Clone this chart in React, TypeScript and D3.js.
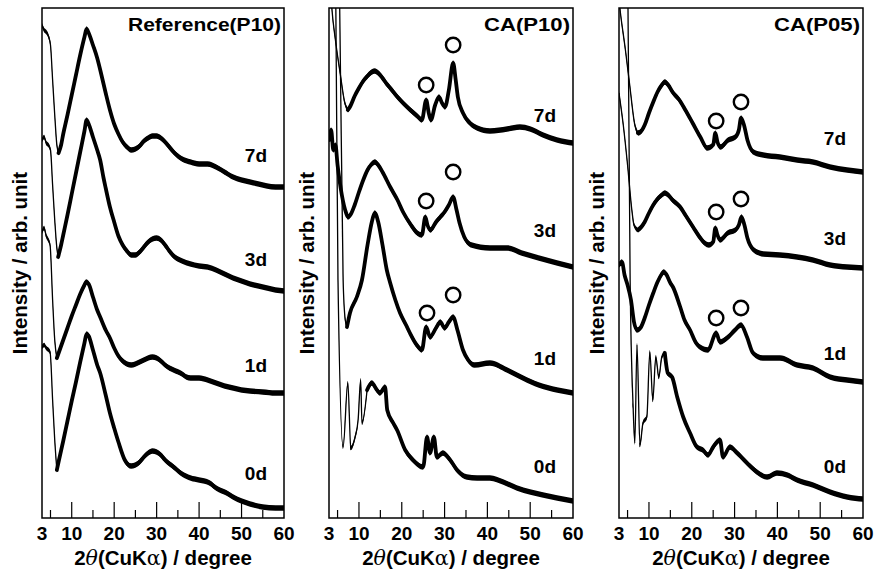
import React from "react";
import * as d3 from "d3";

// ---------- data (2θ in degrees, intensity in arb. units incl. vertical offset) ----------
const X_DOMAIN: [number, number] = [3, 60];
const Y_DOMAIN: [number, number] = [0, 510];
const X_TICK_LABELS = [3, 10, 20, 30, 40, 50, 60];
const X_MAJOR_TICKS = [10, 20, 30, 40, 50];
const X_MINOR_TICKS = [5, 15, 25, 35, 45, 55];
const DAYS = ["7d", "3d", "1d", "0d"];
const PANEL_TITLES = ["Reference(P10)", "CA(P10)", "CA(P05)"];

type P = [number, number];

// Reference(P10)
const ref7d: P[] = [[3,493],[3.5,488],[4,486],[4.5,482],[5,473],[5.5,438],[6,403],[6.5,373],[6.9,365],[7.5,373],[8,384],[9,403],[10,423],[11,443],[12,463],[13,481],[13.5,489],[14,485],[15,473],[16,460],[17,443],[18,425],[19,408],[20,394],[21,384],[22,376],[23,371],[24,368],[25,369],[26,372],[27,377],[28,380],[29,382],[30,382],[31,380],[32,376],[33,371],[34,366],[35,362],[36,359],[38,356],[40,354],[42,354],[44,351],[46,346],[48,341],[50,338],[52,336],[54,334],[56,332],[58,331],[60,331]];
const ref3d: P[] = [[3,378],[3.5,381],[4,375],[4.5,373],[5,368],[5.5,333],[6,298],[6.5,270],[6.8,261],[7.5,273],[8,283],[9,303],[10,324],[11,345],[12,366],[13,387],[13.5,398],[14,394],[15,381],[16,368],[16.7,358],[17.5,340],[18,330],[19,311],[20,296],[21,282],[22,273],[23,267],[24,263],[25,263],[26,266],[27,271],[28,276],[29,279],[30,280],[31,278],[32,273],[33,267],[34,262],[35,259],[36,257],[38,254],[40,252],[42,251],[44,248],[46,244],[48,240],[50,237],[52,234],[54,232],[56,230],[58,228],[60,227]];
const ref1d: P[] = [[3,286],[3.5,290],[4,282],[4.5,278],[4.9,273],[5.5,218],[6,178],[6.5,160],[7,166],[8,178],[9,190],[10,202],[11,213],[12,224],[13,233],[13.4,236],[14,234],[15,221],[16,208],[16.7,201],[18,188],[19,180],[20,170],[21,162],[22,157],[23,154],[24,153],[25,154],[26,156],[27,158],[28,160],[29,161],[30,160],[31,157],[32,153],[33,150],[34,148],[36,144],[37,141],[38,140],[40,140],[42,138],[44,135],[46,132],[48,130],[50,128],[52,127],[55,126],[58,125],[60,125]];
const ref0d: P[] = [[3,171],[3.5,173],[4,170],[4.9,166],[5.5,118],[6,78],[6.5,48],[7,58],[8,77],[9,97],[10,117],[11,136],[12,156],[13,175],[13.5,184],[14,182],[15,168],[16,153],[16.7,145],[18,123],[19,105],[20,90],[21,76],[22.5,58],[24,52],[25,53],[26,56],[27,61],[28,65],[29,67],[30,66],[31,63],[32,58],[34,51],[36,44],[38,40],[40,38],[42.5,35],[44,30],[46.5,25],[48,21],[50,17],[52,14],[55,11],[58,10],[60,10]];

// CA(P10)
const p10_7d: P[] = [[3,558],[3.7,508],[4.5,478],[5.6,445],[6.7,415],[7.4,408],[8,412],[9,422],[10,430],[11,437],[12,442],[13,446],[13.7,447],[14.5,445],[15.5,440],[16.5,434],[17.3,430],[19,421],[20.3,415],[22,408],[23.6,402],[24.7,398],[25.7,418],[26.3,405],[26.8,398],[27.8,413],[28.7,421],[29.4,415],[30.1,411],[31,428],[32,455],[32.6,438],[33.1,421],[34.3,405],[35.9,395],[37.6,390],[40.6,387],[44.6,389],[47.6,391],[50,389],[53,383],[56.3,378],[60,375]];
const p10_3d: P[] = [[3,378],[3.5,388],[4,368],[4.5,373],[5,353],[6,323],[7,305],[7.4,301],[8,303],[9,313],[10,326],[11,338],[12,348],[13,354],[13.7,356],[14.5,353],[15.5,346],[17.3,331],[19,318],[20.3,306],[22,294],[23.6,285],[24.7,283],[25.5,301],[26,293],[26.7,288],[28,296],[29,301],[30,306],[31,313],[32,321],[32.8,308],[33.5,295],[34.6,281],[36.3,273],[40.6,270],[44.6,270],[48,265],[52,260],[56.3,255],[60,251]];
const p10_1d: P[] = [[3,818],[5.5,510],[6.3,238],[6.8,198],[7.2,191],[7.9,205],[9.5,221],[10.7,238],[12,273],[13,296],[13.7,305],[14.5,296],[15.5,273],[16.5,248],[17.3,235],[18.5,218],[19.6,205],[21,193],[21.9,185],[23.5,173],[24.7,168],[25.7,191],[26.6,181],[28,190],[29,196],[30,190],[31,196],[32,201],[33,188],[34.3,168],[35.5,158],[37,153],[40.6,155],[44.6,148],[48.3,140],[52,133],[56.3,128],[60,125]];
const p10_0d: P[] = [[3,918],[4.6,510],[5.1,238],[6.3,71],[7.4,135],[8.1,70],[9.1,81],[9.8,98],[10.4,138],[10.7,95],[11.9,128],[13,135],[14.2,128],[14.9,125],[16.1,131],[16.6,108],[18,95],[18.9,88],[20.8,68],[22.6,58],[25,51],[25.9,81],[26.6,65],[27.5,81],[28.2,61],[29.6,65],[31.3,58],[32.9,48],[35.2,41],[37.6,40],[40.6,40],[43.7,36],[46.9,30],[50,26],[53,23],[56.3,20],[60,17]];

// CA(P05)
const p05_7d: P[] = [[3,518],[3.2,510],[4.5,468],[5.5,433],[6.7,393],[7.4,385],[8,386],[9,393],[10,405],[11,416],[12,426],[13,433],[13.7,436],[14.5,433],[15.5,426],[17.1,418],[18.5,408],[20.2,395],[22,381],[23.6,370],[25,373],[25.5,385],[26,376],[26.7,371],[28.5,378],[30.2,381],[31,388],[31.5,400],[32.2,393],[33,378],[34.4,366],[36.7,363],[40.6,361],[44.6,358],[48.3,356],[52.3,351],[56.3,348],[60,346]];
const p05_3d: P[] = [[3,425],[4,393],[5,353],[6,308],[6.5,293],[7.4,288],[8,290],[9,296],[10,305],[11,313],[12,319],[13,323],[13.7,325],[14.5,323],[15.5,318],[17.3,311],[18.5,303],[20.3,291],[22,280],[23,275],[24,273],[25,276],[25.5,290],[26,283],[26.6,278],[28.4,285],[30.2,288],[31,293],[31.6,301],[32.3,293],[33,280],[34.5,268],[36.7,264],[40.6,263],[44.6,261],[48.3,258],[52.3,253],[56.3,251],[60,250]];
const p05_1d: P[] = [[3,253],[3.7,256],[4.3,243],[5,233],[5.8,218],[6.5,196],[7.2,188],[8,190],[9,200],[10,213],[11,225],[12,236],[13,244],[13.4,246],[14,244],[15,235],[15.6,231],[17.3,211],[18.3,198],[19.6,188],[21,175],[21.9,171],[23.8,168],[25.7,185],[26.6,176],[28.5,181],[30.1,188],[31.5,193],[32.9,181],[34.3,165],[36.6,160],[40.6,160],[44.6,153],[48.3,150],[52.3,141],[56.3,138],[60,136]];
const p05_0d: P[] = [[3,818],[5.1,510],[5.6,238],[6.3,111],[6.7,75],[7.2,173],[7.9,73],[8.6,95],[9.5,101],[10.2,166],[10.9,118],[11.6,161],[12.3,141],[13,161],[13.7,165],[14.4,145],[15.4,141],[16.6,121],[18,101],[19.6,85],[21.2,71],[22.6,68],[23.8,63],[25,71],[26.6,78],[27.3,61],[28.9,71],[30.6,65],[32.9,55],[35.2,46],[37.6,41],[39.9,45],[42.3,43],[44.6,38],[48.3,33],[52.3,26],[56.3,21],[60,19]];

// "7d","3d","1d","0d" label heights (same intensity units)
const refLabelI = [356, 252, 146, 38];
const p10LabelI = [396, 281, 153, 45];
const p05LabelI = [373, 273, 158, 45];

// ○ marker positions [2θ, intensity]
const refCircles: P[] = [];
const p10Circles: P[] = [[25.7,433],[32.0,473],[25.7,317],[32.0,346],[25.9,205],[32.0,223]];
const p05Circles: P[] = [[25.7,397],[31.5,416],[25.7,306],[31.5,319],[25.7,200],[31.5,210]];

const PANEL_SERIES: P[][][] = [
  [ref7d, ref3d, ref1d, ref0d],
  [p10_7d, p10_3d, p10_1d, p10_0d],
  [p05_7d, p05_3d, p05_1d, p05_0d],
];
const PANEL_LABEL_I = [refLabelI, p10LabelI, p05LabelI];
const PANEL_CIRCLES = [refCircles, p10Circles, p05Circles];

// ---------- style / layout ----------
// 2θ from which each trace is drawn as a thick noisy band
const THICK_FROM = [
  [6.9, 6.8, 6.5, 6.5],
  [7.4, 3, 7.2, 11.5],
  [7.4, 7.4, 3, 13.5],
];
const W = 877, H = 571;
const TOP = 8, BOTTOM = 518;
const PANELS = [
  { left: 42, right: 284 },
  { left: 329, right: 573 },
  { left: 619, right: 863 },
];
const TITLE_LEN = [153, 86, 86];
const FONT = "'Liberation Sans', Arial, Helvetica, sans-serif";
const NOISE = 2.3;
const NOISE_TAIL = 2.7;
const THICK = 3.8;

function Panel({ idx }: { idx: number }) {
  const { left, right } = PANELS[idx];
  const x = d3.scaleLinear().domain(X_DOMAIN).range([left, right]);
  const y = d3.scaleLinear().domain(Y_DOMAIN).range([BOTTOM, TOP]);
  const bandOf = (h: number) =>
    d3
      .area<P>()
      .x((d) => x(d[0]))
      .y0((d) => y(d[1]) + h)
      .y1((d) => y(d[1]) - h)
      .curve(d3.curveMonotoneX);
  const band = bandOf(NOISE);
  const bandTail = bandOf(NOISE_TAIL);
  const line = d3
    .line<P>()
    .x((d) => x(d[0]))
    .y((d) => y(d[1]))
    .curve(d3.curveMonotoneX);
  const clipId = `clip-${idx}`;
  const cx = (left + right) / 2;
  const cy = (TOP + BOTTOM) / 2;
  return (
    <g>
      <defs>
        <clipPath id={clipId}>
          <rect x={left} y={TOP} width={right - left} height={BOTTOM - TOP} />
        </clipPath>
      </defs>
      <g clipPath={`url(#${clipId})`}>
        {PANEL_SERIES[idx].map((s, i) => {
          const from = THICK_FROM[idx][i];
          let k = s.findIndex((d) => d[0] >= from);
          if (k < 0) k = s.length - 1;
          const head = s.slice(0, k + 1);
          const tail = s.slice(k);
          return (
            <g key={i}>
              {head.length > 1 && <path d={band(head) ?? ""} fill="#000" stroke="none" />}
              {head.length > 1 && (
                <path d={line(head) ?? ""} fill="none" stroke="#000" strokeWidth={1.3} />
              )}
              <path d={bandTail(tail) ?? ""} fill="#000" stroke="none" />
              <path
                d={line(tail) ?? ""}
                fill="none"
                stroke="#000"
                strokeWidth={THICK}
                strokeLinejoin="round"
                strokeLinecap="round"
              />
            </g>
          );
        })}
        {PANEL_CIRCLES[idx].map((c, i) => (
          <circle key={i} cx={x(c[0])} cy={y(c[1])} r={7.2} fill="#fff" stroke="#000" strokeWidth={2.4} />
        ))}
      </g>
      {/* frame */}
      <rect x={left} y={TOP} width={right - left} height={BOTTOM - TOP} fill="none" stroke="#000" strokeWidth={1.5} />
      {/* ticks */}
      {X_MAJOR_TICKS.map((t) => (
        <line key={"M" + t} x1={x(t)} x2={x(t)} y1={BOTTOM} y2={BOTTOM - 16} stroke="#000" strokeWidth={1.2} />
      ))}
      {X_MINOR_TICKS.map((t) => (
        <line key={"m" + t} x1={x(t)} x2={x(t)} y1={BOTTOM} y2={BOTTOM - 8} stroke="#000" strokeWidth={1.2} />
      ))}
      {X_TICK_LABELS.map((t) => (
        <text key={"l" + t} x={x(t)} y={540} textAnchor="middle" fontFamily={FONT} fontWeight="bold" fontSize={19}>
          {t}
        </text>
      ))}
      {/* title */}
      <text
        x={right - 3}
        y={31}
        textAnchor="end"
        fontFamily={FONT}
        fontWeight="bold"
        fontSize={19}
        textLength={TITLE_LEN[idx]}
        lengthAdjust="spacingAndGlyphs"
      >
        {PANEL_TITLES[idx]}
      </text>
      {/* day labels */}
      {DAYS.map((d, i) => (
        <text key={d} x={right - 17} y={y(PANEL_LABEL_I[idx][i])} textAnchor="end" fontFamily={FONT} fontWeight="bold" fontSize={19}>
          {d}
        </text>
      ))}
      {/* x title */}
      <text x={cx} y={565} textAnchor="middle" fontFamily={FONT} fontWeight="bold" fontSize={20.5}>
        2<tspan fontStyle="italic" fontFamily="'DejaVu Serif', serif" fontWeight="normal">θ</tspan>(CuK<tspan fontFamily="'DejaVu Serif', serif" fontWeight="normal">α</tspan>) / degree
      </text>
      {/* y title */}
      <text
        transform={`translate(${left - 15},${cy}) rotate(-90)`}
        textAnchor="middle"
        fontFamily={FONT}
        fontWeight="bold"
        fontSize={20.5}
      >
        Intensity / arb. unit
      </text>
    </g>
  );
}

export default function App() {
  return (
    <svg
      width={W}
      height={H}
      viewBox={`0 0 ${W} ${H}`}
      style={{ position: "absolute", left: 0, top: 0, background: "#fff" }}
    >
      <rect x={0} y={0} width={W} height={H} fill="#fff" />
      {PANELS.map((_, i) => (
        <Panel key={i} idx={i} />
      ))}
    </svg>
  );
}
